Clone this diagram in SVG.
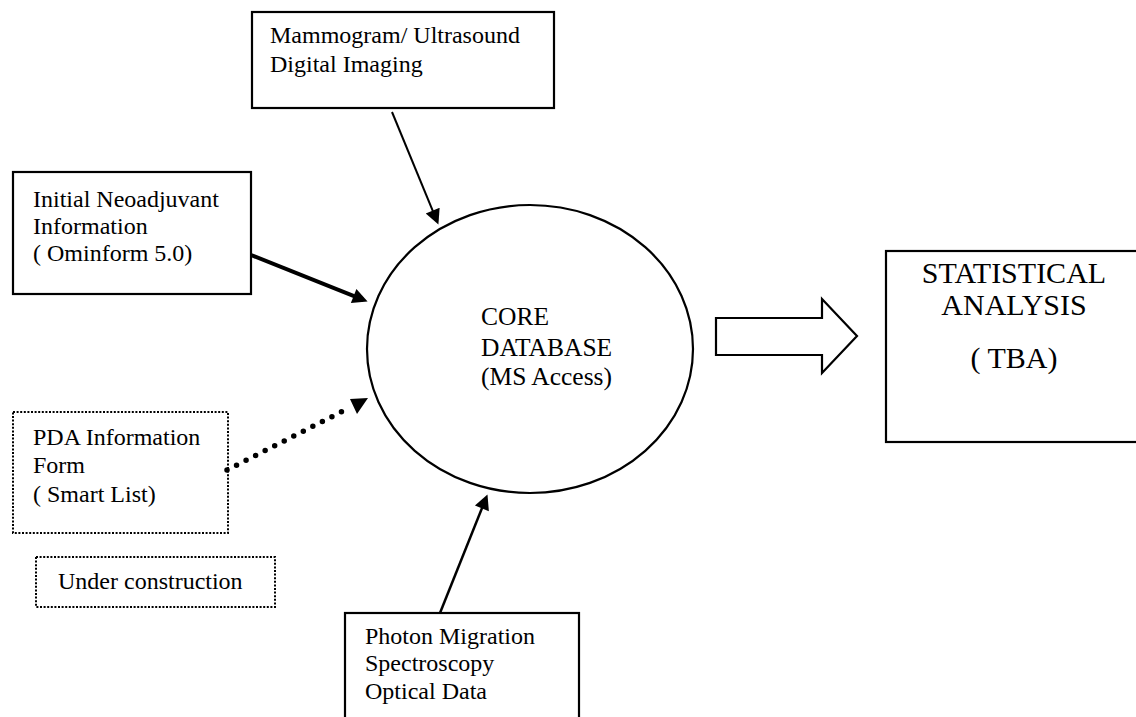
<svg xmlns="http://www.w3.org/2000/svg" width="1136" height="717" viewBox="0 0 1136 717">
<style>
text{font-family:"Liberation Serif","Times New Roman",serif;fill:#000}
.t24{font-size:24px}
.t26{font-size:25.5px}
.t30{font-size:30px}
.box{fill:#fff;stroke:#000;stroke-width:2.2}
.dbox{fill:#fff;stroke:#000;stroke-width:2;stroke-dasharray:2 1.6}
.conn{fill:none;stroke:#000}
</style>
<defs>
<marker id="ah" viewBox="0 0 10 10" refX="7" refY="5" markerUnits="userSpaceOnUse" markerWidth="20" markerHeight="15" orient="auto">
<path d="M0,0 L10,5 L0,10 z" fill="#000"/>
</marker>
</defs>
<rect width="1136" height="717" fill="#fff"/>

<g id="mammogram">
<rect class="box" x="252" y="12" width="302" height="96"/>
<text class="t24" x="270" y="43">Mammogram/ Ultrasound</text>
<text class="t24" x="270" y="72">Digital Imaging</text>
</g>

<g id="initial">
<rect class="box" x="13" y="172" width="238" height="122"/>
<text class="t24" x="33" y="207">Initial Neoadjuvant</text>
<text class="t24" x="33" y="234">Information</text>
<text class="t24" x="33" y="261">( Ominform 5.0)</text>
</g>

<g id="pda">
<rect class="dbox" x="13" y="412" width="215" height="121"/>
<text class="t24" x="33" y="445">PDA Information</text>
<text class="t24" x="33" y="473">Form</text>
<text class="t24" x="33" y="502">( Smart List)</text>
</g>

<g id="under-construction">
<rect class="dbox" x="36" y="557" width="239" height="50"/>
<text class="t24" x="58" y="589">Under construction</text>
</g>

<g id="core">
<ellipse cx="530" cy="349" rx="163" ry="144" fill="#fff" stroke="#000" stroke-width="2.2"/>
<text class="t26" x="481" y="325">CORE</text>
<text class="t26" x="481" y="356">DATABASE</text>
<text class="t26" x="481" y="385">(MS Access)</text>
</g>

<g id="statistical">
<rect class="box" x="886" y="251" width="270" height="191"/>
<text class="t30" x="1014" y="283" text-anchor="middle">STATISTICAL</text>
<text class="t30" x="1014" y="315" text-anchor="middle">ANALYSIS</text>
<text class="t30" x="1014" y="368" text-anchor="middle">( TBA)</text>
</g>

<g id="photon">
<rect class="box" x="345" y="613" width="234" height="130"/>
<text class="t24" x="365" y="644">Photon Migration</text>
<text class="t24" x="365" y="671">Spectroscopy</text>
<text class="t24" x="365" y="699">Optical Data</text>
</g>

<g id="connectors">
<path class="conn" d="M392,112 L436.7,220.4" stroke-width="2" marker-end="url(#ah)"/>
<path class="conn" d="M251,255 L363.4,299.8" stroke-width="4" marker-end="url(#ah)"/>
<path class="conn" d="M440,613 L485.8,498.6" stroke-width="2.5" marker-end="url(#ah)"/>
<path class="conn" d="M227,470 L345,410" stroke-width="5.5" stroke-linecap="round" stroke-dasharray="0 10.7"/>
<polygon points="368,398 350,399 357,414" fill="#000"/>
<polygon points="716,318 822,318 822,299 857,336 822,373 822,355 716,355" fill="#fff" stroke="#000" stroke-width="2.2" stroke-linejoin="miter"/>
</g>
</svg>
